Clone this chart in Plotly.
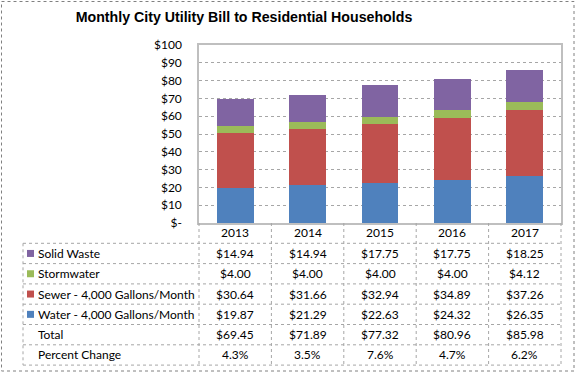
import plotly.graph_objects as go

years = ["2013", "2014", "2015", "2016", "2017"]
water = [19.87, 21.29, 22.63, 24.32, 26.35]
sewer = [30.64, 31.66, 32.94, 34.89, 37.26]
stormwater = [4.00, 4.00, 4.00, 4.00, 4.12]
solid_waste = [14.94, 14.94, 17.75, 17.75, 18.25]
percent_change = [4.3, 3.5, 7.6, 4.7, 6.2]
y_ticks = [0, 10, 20, 30, 40, 50, 60, 70, 80, 90, 100]
y_tick_labels = ["$-"] + [f"${v}" for v in y_ticks[1:]]

series = [
    ("Water - 4,000 Gallons/Month", water, "#4F81BD"),
    ("Sewer - 4,000 Gallons/Month", sewer, "#C0504D"),
    ("Stormwater", stormwater, "#9BBB59"),
    ("Solid Waste", solid_waste, "#8064A2"),
]
totals = [round(a + b + c + d, 2) for a, b, c, d in zip(water, sewer, stormwater, solid_waste)]

W, H = 576, 373
L, R, T, B = 199, 15, 45, 150
PW, PH = W - L - R, H - T - B
FONT = "Lato"
FS = 12
GRID = "#A6A6A6"


def px(x):
    return (x - L) / PW


def py(y):
    return (H - B - y) / PH


fig = go.Figure()
xs = list(range(len(years)))
for name, vals, color in series:
    fig.add_trace(go.Bar(x=xs, y=vals, name=name, marker=dict(color=color, line=dict(width=0))))

shapes = []
annotations = []

row_top = 243.3
row_h = 20.3
n_rows = 6
table_bottom = row_top + n_rows * row_h
col_w = PW / len(years)

for i in range(n_rows + 1):
    y = row_top + i * row_h
    shapes.append(dict(type="line", xref="paper", yref="paper", x0=px(23), x1=px(L + PW),
                       y0=py(y), y1=py(y), line=dict(color=GRID, width=1, dash="dot")))
shapes.append(dict(type="line", xref="paper", yref="paper", x0=px(23), x1=px(23),
                   y0=py(row_top), y1=py(table_bottom), line=dict(color=GRID, width=1, dash="dot")))
for k in range(len(years) + 1):
    x = L + k * col_w
    shapes.append(dict(type="line", xref="paper", yref="paper", x0=px(x), x1=px(x),
                       y0=0, y1=py(table_bottom), line=dict(color=GRID, width=1, dash="dot")))

for i, yr in enumerate(years):
    annotations.append(dict(x=i, xref="x", y=py(233), yref="paper", text=yr, showarrow=False,
                            font=dict(family=FONT, size=FS, color="#000"), xanchor="center", yanchor="middle"))

rows = [
    ("Solid Waste", solid_waste, "#8064A2", lambda v: f"${v:.2f}"),
    ("Stormwater", stormwater, "#9BBB59", lambda v: f"${v:.2f}"),
    ("Sewer - 4,000 Gallons/Month", sewer, "#C0504D", lambda v: f"${v:.2f}"),
    ("Water - 4,000 Gallons/Month", water, "#4F81BD", lambda v: f"${v:.2f}"),
    ("Total", totals, None, lambda v: f"${v:.2f}"),
    ("Percent Change", percent_change, None, lambda v: f"{v:.1f}%"),
]
for r, (label, vals, color, fmt) in enumerate(rows):
    yc = row_top + (r + 0.5) * row_h
    if color:
        shapes.append(dict(type="rect", xref="paper", yref="paper", x0=px(27), x1=px(34),
                           y0=py(yc - 3.5), y1=py(yc + 3.5), fillcolor=color, line=dict(width=0)))
    annotations.append(dict(x=px(36), xref="paper", y=py(yc), yref="paper", text=label, showarrow=False,
                            font=dict(family=FONT, size=FS, color="#000"), xanchor="left", yanchor="middle"))
    for i, v in enumerate(vals):
        annotations.append(dict(x=i, xref="x", y=py(yc), yref="paper", text=fmt(v), showarrow=False,
                                font=dict(family=FONT, size=FS, color="#000"), xanchor="center", yanchor="middle"))

shapes.append(dict(type="rect", xref="paper", yref="paper", x0=px(1.5), x1=px(574), y0=py(1.5), y1=py(371),
                   line=dict(color="#808080", width=1, dash="dot")))

fig.update_layout(
    width=W, height=H,
    margin=dict(l=L, r=R, t=T, b=B, autoexpand=False),
    paper_bgcolor="white", plot_bgcolor="white",
    barmode="stack", bargap=0.49, showlegend=False,
    title=dict(text="<b>Monthly City Utility Bill to Residential Households</b>",
               x=244 / W, xanchor="center", y=1 - 17 / H, yanchor="middle",
               font=dict(family="Liberation Sans", size=14.2, color="#000")),
    xaxis=dict(range=[-0.5, len(years) - 0.5], showticklabels=False, showgrid=False, zeroline=False,
               showline=True, linecolor="#BFBFBF", linewidth=1.5, mirror=True, ticks="", automargin=False),
    yaxis=dict(range=[0, 100], tickvals=y_ticks, ticktext=y_tick_labels, showgrid=True,
               gridcolor=GRID, griddash="dot", gridwidth=1, zeroline=False,
               showline=True, linecolor="#BFBFBF", linewidth=1.5, mirror=True, ticks="",
               ticklabelstandoff=13, automargin=False,
               tickfont=dict(family=FONT, size=FS, color="#000")),
    shapes=shapes, annotations=annotations,
)

fig.write_html("out.html", config={"displayModeBar": False},
               post_script="document.body.style.margin='0';")
